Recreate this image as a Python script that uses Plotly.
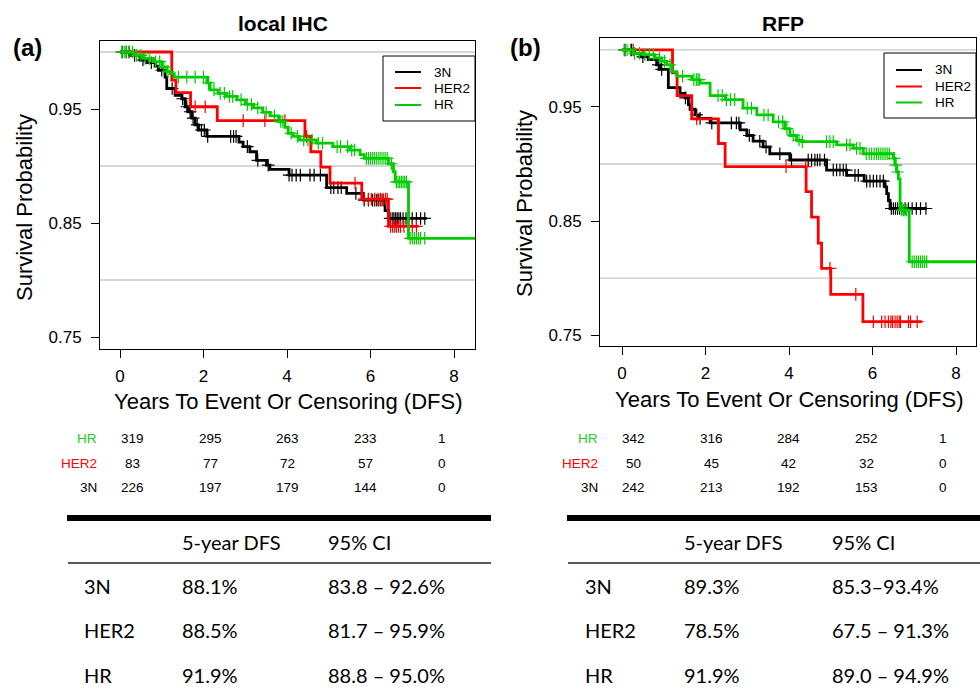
import numpy as np
import plotly.graph_objects as go

# ---------------- data ----------------
groups = ["3N", "HER2", "HR"]
colors = {"3N": "#000000", "HER2": "#FF0000", "HR": "#00CC00"}

# Panel (a) local IHC : Kaplan-Meier steps (time, survival after step)
a_3N_t = [0, 0.24, 0.48, 0.64, 0.84, 0.92, 1.08, 1.12, 1.32, 1.48, 1.56, 1.64, 1.72, 1.80, 1.88, 2.08,
          2.85, 2.95, 3.11, 3.27, 3.51, 3.59, 4.05, 4.95, 5.43, 5.83, 6.35, 6.43]
a_3N_s = [1.0, 0.997, 0.993, 0.9906, 0.9877, 0.984, 0.978, 0.968, 0.962, 0.959, 0.952, 0.9476, 0.942, 0.936,
          0.9316, 0.926, 0.921, 0.917, 0.9125, 0.905, 0.9007, 0.897, 0.892, 0.881, 0.876, 0.870, 0.861, 0.854]
a_3N_end = 7.35
a_3N_cens = [0.05, 0.15, 0.22, 0.35, 0.55, 0.75, 1.0, 1.25, 1.5, 1.6, 1.68, 1.75, 1.85, 1.95, 2.02, 2.1,
             2.65, 2.72, 2.78, 3.05, 3.3, 3.55, 4.05, 4.12, 4.22, 4.32, 4.55, 4.65, 4.8, 5.05, 5.12, 5.22,
             5.3, 5.65, 5.85, 5.95, 6.05, 6.1, 6.15, 6.2, 6.25, 6.3, 6.47, 6.52, 6.56, 6.6, 6.64, 6.68,
             6.72, 6.78, 6.85, 6.92, 7.0, 7.1, 7.2, 7.3]

a_HER2_t = [0, 1.24, 1.34, 1.69, 2.33, 4.43, 4.57, 4.81, 5.03, 5.79, 6.43]
a_HER2_s = [1.0, 0.9754, 0.9643, 0.952, 0.9398, 0.926, 0.9125, 0.899, 0.885, 0.871, 0.847]
a_HER2_end = 7.15
a_HER2_cens = [1.8, 2.04, 2.95, 3.47, 3.95, 4.47, 5.63, 5.85, 5.95, 6.02, 6.1, 6.18, 6.24, 6.3, 6.36,
               6.4, 6.48, 6.53, 6.58, 6.62, 6.67, 6.72, 6.8, 6.9, 7.0, 7.1]

a_HR_t = [0, 0.32, 0.56, 0.8, 1.0, 1.12, 1.2, 1.3, 2.08, 2.16, 2.35, 2.55, 2.8, 3.0, 3.2, 3.42, 3.6,
          3.8, 3.95, 4.03, 4.15, 4.3, 4.7, 5.1, 5.5, 5.75, 5.85, 6.43, 6.55, 6.59, 6.91]
a_HR_s = [1.0, 0.997, 0.9944, 0.9915, 0.987, 0.983, 0.981, 0.978, 0.973, 0.9667, 0.9637, 0.961, 0.958,
          0.954, 0.951, 0.947, 0.944, 0.939, 0.934, 0.9287, 0.926, 0.9228, 0.920, 0.917, 0.914, 0.910,
          0.9067, 0.902, 0.895, 0.886, 0.8366]
a_HR_end = 9.0
a_HR_cens = [0.05, 0.1, 0.15, 0.22, 0.3, 0.4, 0.5, 0.6, 0.7, 0.85, 0.95, 1.05, 1.15, 1.4, 1.6, 1.8, 2.0,
             2.12, 2.25, 2.4, 2.5, 2.62, 2.7, 2.9, 3.05, 3.15, 3.3, 3.5, 3.7, 3.85, 3.9, 4.1, 4.25, 4.4,
             4.5, 4.6, 4.75, 4.85, 5.2, 5.28, 5.45, 5.55, 5.62, 5.9, 5.95, 6.0, 6.05, 6.1, 6.15, 6.2,
             6.25, 6.3, 6.35, 6.4, 6.5, 6.62, 6.66, 6.7, 6.74, 6.78, 6.82, 6.86, 6.95, 7.0, 7.05, 7.1,
             7.15, 7.2, 7.3]

# Panel (b) RFP
b_3N_t = [0, 0.3, 0.43, 0.63, 0.83, 0.91, 1.11, 1.39, 1.51, 1.59, 1.63, 1.75, 1.83, 2.11, 2.83, 2.99,
          3.14, 3.38, 3.54, 4.02, 4.9, 5.38, 5.8, 6.3, 6.34, 6.38, 6.42]
b_3N_s = [1.0, 0.997, 0.994, 0.9915, 0.987, 0.983, 0.967, 0.962, 0.958, 0.952, 0.948, 0.943, 0.940,
          0.936, 0.930, 0.925, 0.920, 0.915, 0.909, 0.9035, 0.8947, 0.890, 0.885, 0.880, 0.874, 0.868,
          0.861]
b_3N_end = 7.3
b_3N_cens = [0.07, 0.23, 0.5, 0.87, 0.95, 1.52, 1.79, 1.87, 2.15, 2.62, 2.74, 2.8, 3.05, 3.3, 3.45,
             3.78, 4.06, 4.46, 4.54, 4.62, 4.68, 4.74, 4.85, 5.06, 5.14, 5.22, 5.3, 5.37, 5.58, 5.66,
             5.86, 5.94, 6.02, 6.1, 6.18, 6.26, 6.45, 6.5, 6.55, 6.6, 6.65, 6.7, 6.78, 6.86, 6.95, 7.05,
             7.15, 7.28]

b_HER2_t = [0, 1.21, 1.32, 1.67, 2.31, 2.47, 4.41, 4.54, 4.70, 4.78, 5.0, 5.77]
b_HER2_s = [1.0, 0.98, 0.96, 0.9395, 0.918, 0.8977, 0.8757, 0.8535, 0.8307, 0.8085, 0.7857, 0.7617]
b_HER2_end = 7.18
b_HER2_cens = [0.27, 1.79, 3.93, 4.4, 4.98, 5.6, 6.02, 6.22, 6.3, 6.38, 6.44, 6.48, 6.54, 6.59, 6.64,
               6.67, 6.86, 6.91, 7.07]

b_HR_t = [0, 0.27, 0.51, 0.79, 0.95, 1.07, 1.19, 1.31, 1.67, 1.87, 2.11, 2.47, 2.9, 3.23, 3.62, 3.9,
          4.02, 4.18, 4.3, 5.14, 5.54, 5.78, 6.5, 6.54, 6.58, 6.62, 6.66, 6.88]
b_HR_s = [1.0, 0.997, 0.996, 0.993, 0.990, 0.987, 0.981, 0.977, 0.974, 0.971, 0.960, 0.9565, 0.949,
          0.943, 0.937, 0.931, 0.925, 0.921, 0.9196, 0.9167, 0.9137, 0.909, 0.905, 0.899, 0.893, 0.887,
          0.8596, 0.8143]
b_HR_end = 9.0
b_HR_cens = [0.05, 0.12, 0.2, 0.3, 0.42, 0.55, 0.65, 0.75, 0.9, 1.02, 1.15, 1.45, 1.72, 1.78, 1.82,
             1.85, 2.3, 2.4, 2.5, 2.6, 2.7, 3.0, 3.1, 3.4, 3.5, 3.75, 3.85, 3.95, 4.1, 4.24, 4.32, 4.9,
             4.98, 5.06, 5.38, 5.46, 5.62, 5.7, 5.85, 5.92, 5.98, 6.04, 6.1, 6.15, 6.2, 6.25, 6.3, 6.35,
             6.4, 6.52, 6.56, 6.6, 6.7, 6.74, 6.78, 6.82, 6.95, 7.0, 7.05, 7.1, 7.15, 7.2, 7.25, 7.3]

# Numbers at risk (times 0,2,4,6,8)
risk_labels = ["HR", "HER2", "3N"]
risk_a = {"HR": [319, 295, 263, 233, 1], "HER2": [83, 77, 72, 57, 0], "3N": [226, 197, 179, 144, 0]}
risk_b = {"HR": [342, 316, 284, 252, 1], "HER2": [50, 45, 42, 32, 0], "3N": [242, 213, 192, 153, 0]}

# Summary tables
tab_header = ["5-year DFS", "95% CI"]
tab_a_groups = ["3N", "HER2", "HR"]
tab_a_dfs = ["88.1%", "88.5%", "91.9%"]
tab_a_ci = ["83.8 \u2013 92.6%", "81.7 \u2013 95.9%", "88.8 \u2013 95.0%"]
tab_b_groups = ["3N", "HER2", "HR"]
tab_b_dfs = ["89.3%", "78.5%", "91.9%"]
tab_b_ci = ["85.3\u201393.4%", "67.5 \u2013 91.3%", "89.0 \u2013 94.9%"]

panel_titles = ["local IHC", "RFP"]
panel_tags = ["(a)", "(b)"]
x_ticks = [0, 2, 4, 6, 8]
y_ticks = [0.75, 0.85, 0.95]
ref_lines = [0.8, 0.9, 1.0]

# ---------------- figure ----------------
W, H = 980, 693
def px(x):
    return x / W
def py(y):
    return 1 - y / H

AX_FONT = "Liberation Sans, Arial, sans-serif"
TAB_FONT = "Lato, 'Open Sans', sans-serif"

fig = go.Figure()

curves = {
    "a": {"3N": (a_3N_t, a_3N_s, a_3N_end, a_3N_cens),
          "HER2": (a_HER2_t, a_HER2_s, a_HER2_end, a_HER2_cens),
          "HR": (a_HR_t, a_HR_s, a_HR_end, a_HR_cens)},
    "b": {"3N": (b_3N_t, b_3N_s, b_3N_end, b_3N_cens),
          "HER2": (b_HER2_t, b_HER2_s, b_HER2_end, b_HER2_cens),
          "HR": (b_HR_t, b_HR_s, b_HR_end, b_HR_cens)},
}
axmap = {"a": ("x", "y"), "b": ("x2", "y2")}

for p in ["a", "b"]:
    xa, ya = axmap[p]
    for g in groups:
        t, s, end, cens = curves[p][g]
        t = np.array(t, float); s = np.array(s, float)
        xs = np.append(t, end); ys = np.append(s, s[-1])
        fig.add_trace(go.Scatter(x=xs, y=ys, mode="lines", line=dict(color=colors[g], width=2.8, shape="hv"),
                                 xaxis=xa, yaxis=ya, showlegend=False, hoverinfo="skip", name=g))
        c = np.array(cens, float)
        idx = np.searchsorted(t, c, side="right") - 1
        fig.add_trace(go.Scatter(x=c, y=s[idx], mode="markers",
                                 marker=dict(symbol="cross-thin", size=9, line=dict(color=colors[g], width=1.2)),
                                 xaxis=xa, yaxis=ya, showlegend=False, hoverinfo="skip", name=g))

axis_common = dict(showline=True, mirror=True, linecolor="black", linewidth=1, showgrid=False, zeroline=False,
                   ticks="outside", ticklen=8, tickwidth=1, tickcolor="black",
                   tickfont=dict(family=AX_FONT, size=17, color="black"))

fig.update_layout(
    width=W, height=H, margin=dict(l=0, r=0, t=0, b=0),
    paper_bgcolor="white", plot_bgcolor="white", showlegend=False,
    xaxis=dict(domain=[px(100), px(475)], range=[-0.479, 8.503], tickvals=x_ticks, anchor="y",
               ticklabelstandoff=4, **axis_common),
    yaxis=dict(domain=[py(349), py(41)], range=[0.7395, 1.00965], tickvals=y_ticks,
               ticktext=[f"{v:.2f}" for v in y_ticks], anchor="x", ticklabelstandoff=6, **axis_common),
    xaxis2=dict(domain=[px(600), px(976)], range=[-0.527, 8.479], tickvals=x_ticks, anchor="y2",
                ticklabelstandoff=4, **axis_common),
    yaxis2=dict(domain=[py(346), py(38)], range=[0.7404, 1.0105], tickvals=y_ticks,
                ticktext=[f"{v:.2f}" for v in y_ticks], anchor="x2", ticklabelstandoff=6, **axis_common),
)

shapes = []
annots = []

# reference lines
for p, (xr, yr) in zip(["a", "b"], [("x domain", "y"), ("x2 domain", "y2")]):
    for v in ref_lines:
        shapes.append(dict(type="line", xref=xr, yref=yr, x0=0, x1=1, y0=v, y1=v,
                           line=dict(color="#C8C8C8", width=1.3), layer="below"))

def text(x, y, s, size, anchor="center", font=AX_FONT, color="black", bold=False, angle=0):
    annots.append(dict(xref="paper", yref="paper", x=px(x), y=py(y), text=(f"<b>{s}</b>" if bold else s),
                       showarrow=False, xanchor=anchor, yanchor="middle", textangle=angle,
                       font=dict(family=font, size=size, color=color)))

# titles, tags, axis titles
text(283, 23, panel_titles[0], 21, bold=True)
text(783, 23, panel_titles[1], 21, bold=True)
text(27, 48, panel_tags[0], 24, bold=True)
text(525, 48, panel_tags[1], 24, bold=True)
text(24, 208, "Survival Probability", 22, angle=-90)
text(524, 204, "Survival Probability", 22, angle=-90)
text(288, 401, "Years To Event Or Censoring (DFS)", 22)
text(789, 399, "Years To Event Or Censoring (DFS)", 22)

# legends
for (bx0, bx1, by0, by1, lx0, lx1, tx, ys) in [
        (383, 475, 56, 121, 395, 421, 432, [72, 88, 105]),
        (884, 976, 53, 118, 896, 922, 933, [70, 86.5, 102.5])]:
    shapes.append(dict(type="rect", xref="paper", yref="paper", x0=px(bx0), x1=px(bx1), y0=py(by1), y1=py(by0),
                       line=dict(color="black", width=1), fillcolor="white", layer="above"))
    for g, yy in zip(groups, ys):
        shapes.append(dict(type="line", xref="paper", yref="paper", x0=px(lx0), x1=px(lx1), y0=py(yy), y1=py(yy),
                           line=dict(color=colors[g], width=2), layer="above"))
        text(tx, yy, g, 13.5, anchor="left")

# numbers at risk
risk_rows_y = [438, 463, 488]
for risk, lab_x, col_x in [(risk_a, 99, [132, 210, 287, 365, 442]),
                           (risk_b, 600, [633, 711, 788, 866, 943])]:
    for g, yy in zip(risk_labels, risk_rows_y):
        text(lab_x, yy, g, 13.5, anchor="right", color=colors[g] if g != "HR" else "#22CC22")
        for v, xx in zip(risk[g], col_x):
            text(xx, yy, str(v), 13.5)

# summary tables
for (x0, x1, lx, dx, cx, grp, dfs, ci) in [(67, 491, 82, 180, 326, tab_a_groups, tab_a_dfs, tab_a_ci),
                                            (567, 980, 583, 682, 830, tab_b_groups, tab_b_dfs, tab_b_ci)]:
    shapes.append(dict(type="line", xref="paper", yref="paper", x0=px(x0), x1=px(x1), y0=py(518), y1=py(518),
                       line=dict(color="black", width=6)))
    shapes.append(dict(type="line", xref="paper", yref="paper", x0=px(x0 + 1), x1=px(x1), y0=py(563), y1=py(563),
                       line=dict(color="#222222", width=1.6)))
    text(dx, 542, tab_header[0], 20, anchor="left", font=TAB_FONT)
    text(cx, 542, tab_header[1], 20, anchor="left", font=TAB_FONT)
    for g, d, c, yy in zip(grp, dfs, ci, [586, 630, 675]):
        text(lx, yy, g, 20, anchor="left", font=TAB_FONT)
        text(dx, yy, d, 20, anchor="left", font=TAB_FONT)
        text(cx, yy, c, 20, anchor="left", font=TAB_FONT)

fig.update_layout(shapes=shapes, annotations=annots)
fig.write_html("out.html", config={"displayModeBar": False},
               post_script="document.body.style.margin='0px';document.body.style.overflow='hidden';")
